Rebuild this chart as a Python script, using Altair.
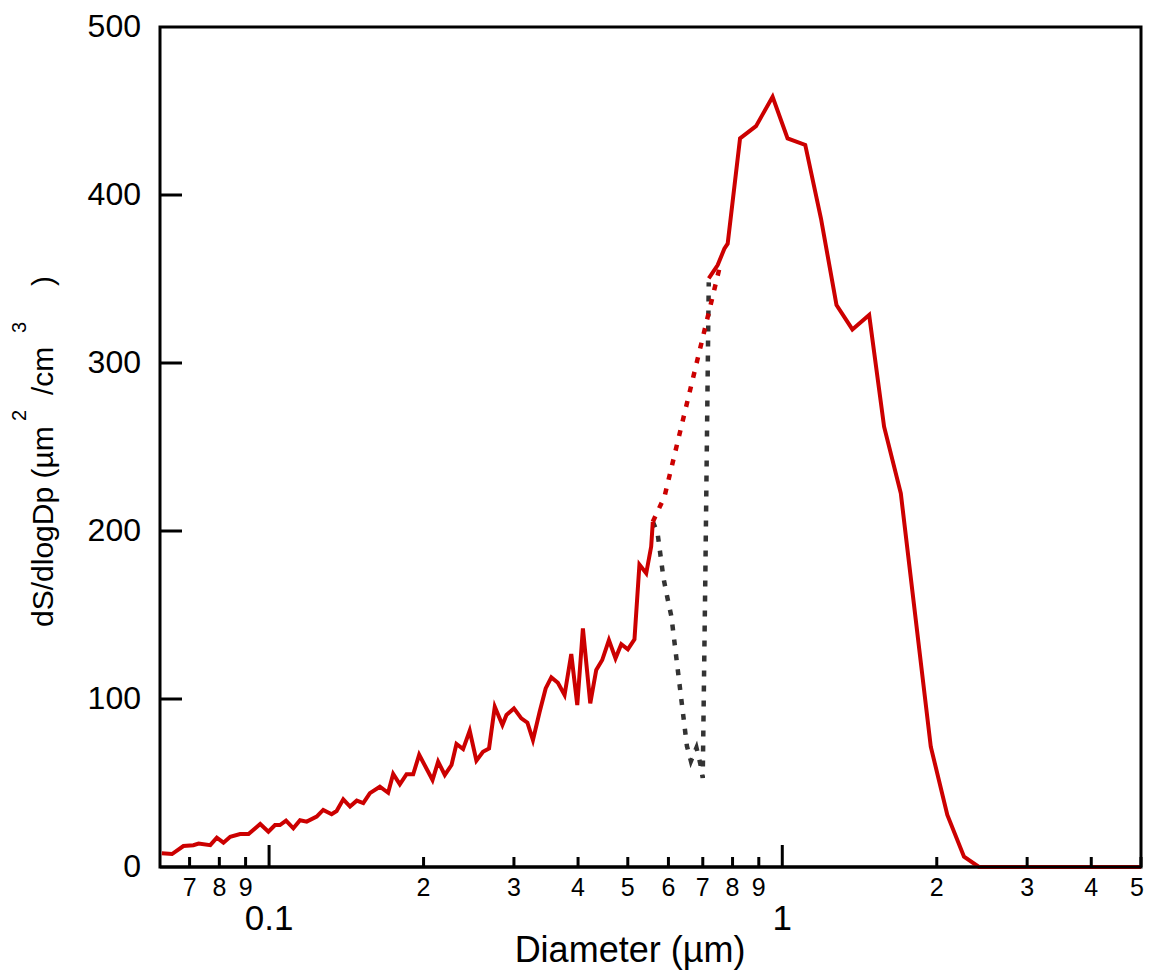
import altair as alt
import pandas as pd

# ---- data ----
red1_d = [0.0618,0.0647,0.0681,0.0712,0.0729,0.0768,0.0791,0.0815,0.0840,0.0878,0.0912,0.0961,0.0997,0.1027,0.1050,0.1079,0.1115,0.1149,0.1184,0.1238,0.1275,0.1324,0.1354,0.1395,0.1438,0.1482,0.1526,0.1572,0.1644,0.1706,0.1745,0.1798,0.1853,0.1909,0.1961,0.2082,0.2135,0.2200,0.2267,0.2318,0.2388,0.2460,0.2535,0.2611,0.2683,0.2753,0.2849,0.2901,0.3000,0.3101,0.3187,0.3267,0.3367,0.3459,0.3548,0.3654,0.3765,0.3880,0.3986,0.4088,0.4225,0.4340,0.4458,0.4594,0.4732,0.4856,0.5001,0.5152,0.5268,0.5431,0.5553,0.5594]
red1_v = [8.2,7.7,12.5,13,14,13,17.5,14.5,18,19.6,19.6,25.6,21,25,25,27.6,23,27.8,27,30,34,31.4,33.3,40.3,36,39.5,38,44,47.8,44.2,55.4,49.2,55.2,55.2,66.8,51.8,62.7,54.8,60.7,73.2,70.2,81.1,63.3,68.6,70.6,95.4,84.5,90.5,94.4,88.5,85.9,75.6,92.4,106.3,112.9,109.7,102.4,126.8,96.4,142,97.4,117.3,123.2,135.1,124.2,132.6,129.6,135.5,180,174.8,190.7,205.5]

red2_d = [0.7190,0.7484,0.7711,0.7827,0.8274,0.8888,0.9575,1.024,1.1085,1.1896,1.2754,1.3697,1.4767,1.579,1.702,1.947,2.097,2.260,2.417,5.0]
red2_v = [350.4,358.3,368,371,433.7,441,458.5,433.7,429.8,386,334.5,320,328.6,262.1,222.4,71.6,31,6.1,0,0]

reddot_d = [0.5594,0.5894,0.7543]
reddot_v = [205.5,220.4,356.4]

blackdot_d = [0.5594,0.5713,0.5868,0.5975,0.6081,0.6519,0.6637,0.6804,0.6928,0.6998,0.7083,0.7190]
blackdot_v = [205.5,199,172,160,149,72,63,71,61,53,177,348]

minor_ticks = [0.07,0.08,0.09,0.2,0.3,0.4,0.5,0.6,0.7,0.8,0.9,2,3,4]
minor_labels = ["7","8","9","2","3","4","5","6","7","8","9","2","3","4"]
edge_tick = [5]
edge_label = ["5"]
major_ticks = [0.1,1]
major_labels = ["0.1","1"]
y_ticks = [0,100,200,300,400,500]
y_labels = ["0","100","200","300","400","500"]

x_title = "Diameter (µm)"
y_title_parts = ["dS/dlogDp (µm", "2", "/cm", "3", ")"]

W, H = 981, 840
FONT = "Liberation Sans, Arial, Helvetica, sans-serif"
RED = "#cc0000"
GREY = "#333333"

xs = alt.Scale(type="log", domain=[0.0613, 5.0])
ys = alt.Scale(domain=[0, 500])

red_solid = pd.DataFrame({
    "d": red1_d + red2_d,
    "v": red1_v + red2_v,
    "seg": ["a"] * len(red1_d) + ["b"] * len(red2_d),
})
red_dot = pd.DataFrame({"d": reddot_d, "v": reddot_v})
black_dot = pd.DataFrame({"d": blackdot_d, "v": blackdot_v})
minor_df = pd.DataFrame({"t": minor_ticks, "lab": minor_labels})
edge_df = pd.DataFrame({"t": edge_tick, "lab": edge_label})
major_df = pd.DataFrame({"t": major_ticks, "lab": major_labels})
ytick_df = pd.DataFrame({"t": y_ticks[1:-1]})
ylab_df = pd.DataFrame({"t": y_ticks, "lab": y_labels})
one = pd.DataFrame({"k": [0]})

black_layer = alt.Chart(black_dot).mark_line(
    color=GREY, strokeWidth=4.5, strokeDash=[6, 9], strokeCap="butt"
).encode(
    x=alt.X("d:Q", scale=xs, axis=None),
    y=alt.Y("v:Q", scale=ys, axis=None),
)

reddot_layer = alt.Chart(red_dot).mark_line(
    color=RED, strokeWidth=4.5, strokeDash=[6, 9], strokeCap="butt"
).encode(
    x=alt.X("d:Q", scale=xs, axis=None),
    y=alt.Y("v:Q", scale=ys, axis=None),
)

red_layer = alt.Chart(red_solid).mark_line(
    color=RED, strokeWidth=4, strokeJoin="miter"
).encode(
    x=alt.X("d:Q", scale=xs, axis=None),
    y=alt.Y("v:Q", scale=ys, axis=None),
    detail="seg:N",
)

bottom_line = alt.Chart(one).mark_rule(color="black", strokeWidth=3).encode(
    x=alt.value(0), x2=alt.value(W), y=alt.value(H)
)

minor_tick_layer = alt.Chart(pd.concat([minor_df, edge_df])).mark_rule(color="black", strokeWidth=3).encode(
    x=alt.X("t:Q", scale=xs, axis=None), y=alt.value(H), y2=alt.value(H - 10)
)
major_tick_layer = alt.Chart(major_df).mark_rule(color="black", strokeWidth=3).encode(
    x=alt.X("t:Q", scale=xs, axis=None), y=alt.value(H), y2=alt.value(H - 22)
)
ytick_layer = alt.Chart(ytick_df).mark_rule(color="black", strokeWidth=3).encode(
    y=alt.Y("t:Q", scale=ys, axis=None), x=alt.value(0), x2=alt.value(22)
)

minor_lab_layer = alt.Chart(minor_df).mark_text(
    font=FONT, fontSize=25, color="black", baseline="alphabetic", align="center"
).encode(
    x=alt.X("t:Q", scale=xs, axis=None), y=alt.value(H + 29), text="lab:N"
)
edge_lab_layer = alt.Chart(edge_df).mark_text(
    font=FONT, fontSize=25, color="black", baseline="alphabetic", align="center", dx=-4
).encode(
    x=alt.X("t:Q", scale=xs, axis=None), y=alt.value(H + 29), text="lab:N"
)
major_lab_layer = alt.Chart(major_df).mark_text(
    font=FONT, fontSize=35, color="black", baseline="alphabetic", align="center"
).encode(
    x=alt.X("t:Q", scale=xs, axis=None), y=alt.value(H + 63), text="lab:N"
)
ylab_layer = alt.Chart(ylab_df).mark_text(
    font=FONT, fontSize=32, color="black", baseline="middle", align="right"
).encode(
    y=alt.Y("t:Q", scale=ys, axis=None), x=alt.value(-19), text="lab:N"
)

xtitle_layer = alt.Chart(one).mark_text(
    text=x_title, font=FONT, fontSize=36, color="black", baseline="alphabetic", align="center"
).encode(x=alt.value(470), y=alt.value(935))

# y title pieces (rotated, reading bottom-to-top), superscripts raised and smaller
yt_pos = [(-107, 600, 30), (-134, 394, 20), (-107, 368, 30), (-134, 306, 20), (-107, 259, 30)]
ytitle_layers = [
    alt.Chart(one).mark_text(
        text=txt, font=FONT, fontSize=fs, color="black", baseline="alphabetic",
        align="left", angle=270
    ).encode(x=alt.value(px), y=alt.value(py))
    for txt, (px, py, fs) in zip(y_title_parts, yt_pos)
]

chart = alt.layer(
    black_layer, reddot_layer, red_layer, bottom_line,
    minor_tick_layer, major_tick_layer, ytick_layer,
    minor_lab_layer, edge_lab_layer, major_lab_layer, ylab_layer,
    xtitle_layer, *ytitle_layers,
).properties(
    width=W, height=H,
    padding={"left": 152, "top": 19, "right": 3, "bottom": 104},
    autosize=alt.AutoSizeParams(type="none"),
    background="white",
).configure_view(
    stroke="black", strokeWidth=3
)

chart.save("out.html", embed_options={"renderer": "svg", "actions": False})
